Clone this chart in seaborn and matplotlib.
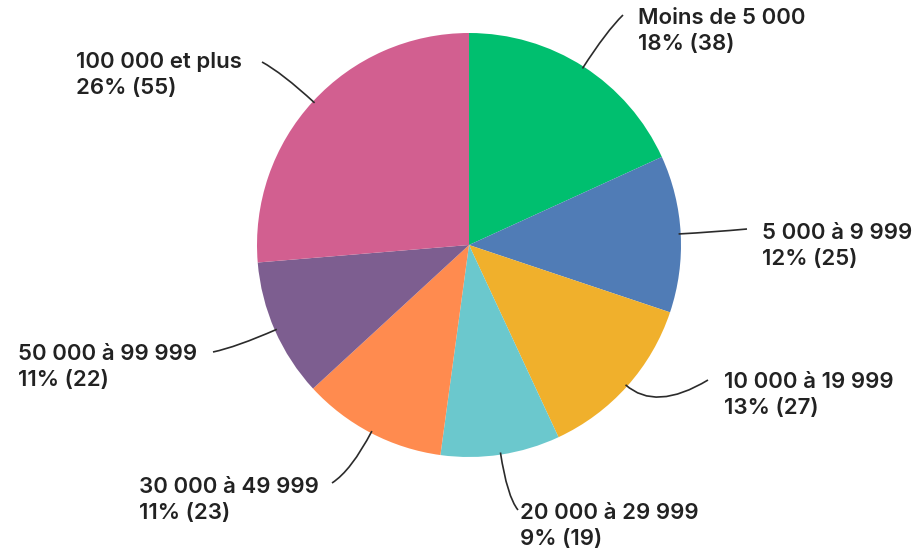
import numpy as np
import matplotlib
matplotlib.use("Agg")
import matplotlib.pyplot as plt
from matplotlib.path import Path
from matplotlib.patches import PathPatch
import seaborn as sns

categories = ["Moins de 5 000", "5 000 à 9 999", "10 000 à 19 999", "20 000 à 29 999",
              "30 000 à 49 999", "50 000 à 99 999", "100 000 et plus"]
counts = [38, 25, 27, 19, 23, 22, 55]
percents = [18, 12, 13, 9, 11, 11, 26]
colors = ["#00bf6f", "#507cb6", "#f0b02c", "#6bc8cd", "#ff8b4f", "#7d5e90", "#d25f90"]

sns.set_theme(style="white")
plt.rcParams['font.family'] = ['Inter', 'DejaVu Sans']

W, H = 915, 552
CX, CY, R = 469, 245, 212
fig = plt.figure(figsize=(W / 100, H / 100), dpi=100)
ax = fig.add_axes([0, 0, 1, 1])
ax.set_aspect("equal")
ax.axis("off")

pal = sns.color_palette(colors)
wedges, _ = ax.pie(counts, colors=pal, startangle=90, counterclock=False, radius=1,
                   wedgeprops=dict(linewidth=0), center=(0, 0), frame=False)
ax.set_xlim(-CX / R, (W - CX) / R)
ax.set_ylim(-(H - CY) / R, CY / R)

def px(x, y):
    return ((x - CX) / R, (CY - y) / R)

# label placement (pixels): text left/center, leader end point, control radius
text_pos = [(638, 31), (762, 246), (724, 395), (520, 526), (139, 500), (18, 367), (76, 75)]
line_end = [(623, 15), (747, 229), (708, 380), (518, 510), (332, 483), (213, 352), (262, 62)]
ctrl_r = [1.2, 1.15, 1.18, 1.2, 1.2, 1.2, 1.2]

for w, cat, pct, n, tp, le, cr in zip(wedges, categories, percents, counts, text_pos, line_end, ctrl_r):
    ang = np.deg2rad((w.theta1 + w.theta2) / 2)
    p0 = (np.cos(ang) * 0.99, np.sin(ang) * 0.99)
    p1 = (np.cos(ang) * cr, np.sin(ang) * cr)
    p2 = px(*le)
    path = Path([p0, p1, p2], [Path.MOVETO, Path.CURVE3, Path.CURVE3])
    ax.add_patch(PathPatch(path, facecolor="none", edgecolor="#2b2b2b", lw=1.2))
    x, y = px(*tp)
    ax.text(x, y, f"{cat}\n{pct}% ({n})", ha="left", va="center", fontsize=16,
            fontweight="semibold", color="#222222", linespacing=1.4)

fig.savefig("out.png", dpi=100, facecolor="white")
